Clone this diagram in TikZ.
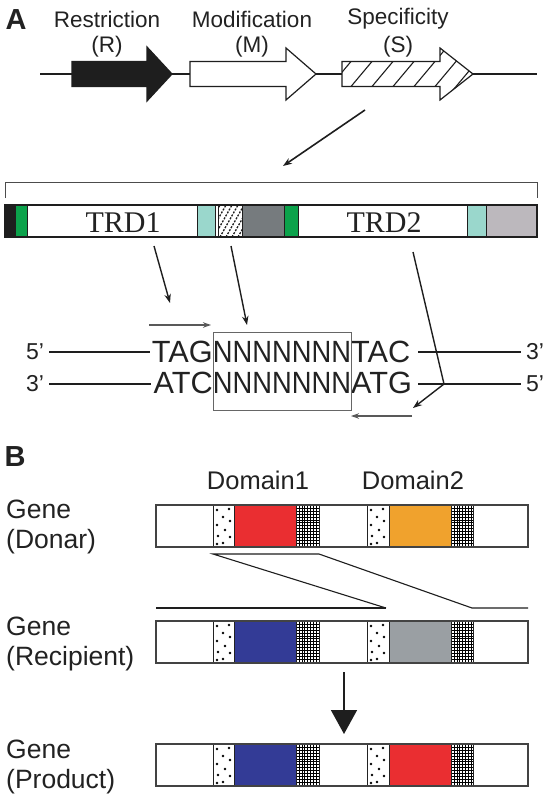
\documentclass[tikz,border=0pt]{standalone}
\usepackage{fontspec}
\setmainfont{Liberation Sans}
\newfontfamily\seqfont[FakeStretch=0.89]{Liberation Sans}
\newfontfamily\timesfont{Liberation Serif}
\usetikzlibrary{arrows.meta}
\definecolor{cgreen}{HTML}{0BA24B}
\definecolor{cteal}{HTML}{9AD7CC}
\definecolor{cdgray}{HTML}{767B7E}
\definecolor{clgray}{HTML}{BCB8BD}
\definecolor{cred}{HTML}{EA2E31}
\definecolor{corange}{HTML}{F0A22D}
\definecolor{cblue}{HTML}{333B96}
\definecolor{cgray}{HTML}{9A9FA3}
\definecolor{cblack}{HTML}{1E1E1E}
\definecolor{ink}{HTML}{222222}
\newcommand\mygenebar[3]{%
  \pgfmathsetmacro\yt{#1}\pgfmathsetmacro\yb{#1+42}%
  \fill[white] (156,\yt) rectangle (528,\yb);
  \fill[#2] (234,\yt) rectangle (296,\yb);
  \fill[#3] (389,\yt) rectangle (451,\yb);
  \foreach \gx in {296,451}{
    \begin{scope}
      \clip (\gx,\yt) rectangle (\gx+23,\yb);
      \foreach \i in {1,...,7} \draw[line width=0.5pt] (\gx+2.9*\i,\yt) -- (\gx+2.9*\i,\yb);
      \foreach \j in {1,...,14} \draw[line width=0.5pt] (\gx,\yt+2.95*\j) -- (\gx+23,\yt+2.95*\j);
    \end{scope}
  }
  \foreach \dxo in {213,367}{
    \foreach \dx/\dy in {4/5,16/4,10/12,17/16,4/20,12/25,5/31,17/32,10/38,4/39}
      \fill[black] (\dxo+\dx,\yt+\dy) circle (1.4pt);
  }
  \foreach \dv in {213,234,296,319,367,389,451,473}
    \draw[line width=0.8pt, ink] (\dv,\yt) -- (\dv,\yb);
  \draw[line width=1.6pt, ink!85] (156,\yt) rectangle (528,\yb);
}
\begin{document}
\begin{tikzpicture}[x=1pt,y=-1pt,
  panel/.style={font=\fontsize{29}{30}\selectfont\bfseries, inner sep=0pt, text=ink},
  lbl/.style={font=\fontsize{22.5}{24}\selectfont, inner sep=0pt, text=ink},
  dlbl/.style={font=\fontsize{25.5}{27}\selectfont, inner sep=0pt, anchor=base, text=ink},
  glbl/.style={font=\fontsize{26.5}{28}\selectfont, inner sep=0pt, anchor=base west, text=ink},
  seqL/.style={font=\fontsize{30.7}{32}\selectfont, inner sep=0pt, anchor=base east, text=ink},
  seqR/.style={font=\fontsize{30.7}{32}\selectfont, inner sep=0pt, anchor=base west, text=ink},
  seqN/.style={font=\seqfont\fontsize{30.7}{32}\selectfont, inner sep=0pt, anchor=base, text=ink},
  prime/.style={font=\fontsize{23}{25}\selectfont, inner sep=0pt, text=ink},
  trd/.style={font=\timesfont\fontsize{30}{32}\selectfont, inner sep=0pt, anchor=base, text=ink},
  gene/.style={line width=1.2pt, draw=cblack},
  conn/.style={line width=1.4pt, draw=cblack, -{Stealth[length=9pt,width=6.5pt]}},
  small/.style={line width=1.2pt, draw=black!65, -{Stealth[length=8pt,width=5.5pt]}},
  strand/.style={line width=1.2pt, draw=cblack},
]
\useasboundingbox (0,0) rectangle (548,800);
\fill[white] (0,0) rectangle (548,800);

% ---------- Panel A ----------
\node[panel] (A) at (16,20) {A};
\node[lbl] (restr) at (107,19) {Restriction};
\node[lbl] (rlab) at (107,47) {(R)};
\node[lbl] (modif) at (252,19) {Modification};
\node[lbl] (mlab) at (252,47) {(M)};
\node[lbl] (spec) at (398,19) {Specificity};
\node[lbl] (slab) at (398,47) {(S)};

\draw[line width=1.3pt, cblack] (40,74) -- (537,74);
% R arrow
\filldraw[gene, fill=cblack] (72,61.5) -- (147,61.5) -- (147,47) -- (172,74) -- (147,101) -- (147,86.5) -- (72,86.5) -- cycle;
% M arrow
\filldraw[gene, fill=white] (190,61.5) -- (286,61.5) -- (286,48) -- (316,74) -- (286,100) -- (286,86.5) -- (190,86.5) -- cycle;
% S arrow (hatched)
\fill[white] (342,61.5) -- (440,61.5) -- (440,48) -- (473,74) -- (440,100) -- (440,86.5) -- (342,86.5) -- cycle;
\begin{scope}
  \clip (342,61.5) -- (440,61.5) -- (440,48) -- (473,74) -- (440,100) -- (440,86.5) -- (342,86.5) -- cycle;
  \foreach \k in {-1,...,6}
    \draw[line width=1.1pt, cblack] (351+21*\k-19.7,110) -- (351+21*\k+39,40);
\end{scope}
\draw[gene] (342,61.5) -- (440,61.5) -- (440,48) -- (473,74) -- (440,100) -- (440,86.5) -- (342,86.5) -- cycle;

\coordinate (d1) at (365,110);
\coordinate (d2) at (283,166);
\draw[conn, line width=1.6pt] (d1) -- (d2);

% bracket
\draw[line width=0.9pt, black!70] (5,198) -- (5,182) -- (537,182) -- (537,198);

% domain bar
\fill[cblack] (5,205) rectangle (15,237);
\fill[cgreen] (15,205) rectangle (27,237);
\fill[white] (27,205) rectangle (197,237);
\fill[cteal] (197,205) rectangle (215,237);
\fill[white] (215,205) rectangle (242,237);
\begin{scope}
  \clip (218,205) rectangle (242,237);
  \foreach \hx in {196,202,...,250}
    \draw[line width=1.3pt, cblack, dash pattern=on 2pt off 1.4pt] (\hx,237) -- (\hx+18,205);
\end{scope}
\fill[cdgray] (242,205) rectangle (284,237);
\fill[cgreen] (284,205) rectangle (298,237);
\fill[white] (298,205) rectangle (467,237);
\fill[cteal] (467,205) rectangle (486,237);
\fill[clgray] (486,205) rectangle (537,237);
\foreach \dv in {15,27,197,215,218,242,284,298,467,486}
  \draw[line width=0.9pt, cblack] (\dv,205) -- (\dv,237);
\draw[line width=2.2pt, cblack] (5,205) rectangle (537,237);
\node[trd] (trd1) at (123,232) {TRD1};
\node[trd] (trd2) at (384,232) {TRD2};

% arrows to sequence
\coordinate (a1s) at (154,246);
\coordinate (a1e) at (170,303);
\coordinate (a2s) at (231,246);
\coordinate (a2e) at (247,325);
\coordinate (a3s) at (413,252);
\coordinate (a3m) at (444,384);
\coordinate (a3e) at (413,408);
\draw[conn] (a1s) -- (a1e);
\draw[conn] (a2s) -- (a2e);
\draw[conn] (a3s) -- (a3m) -- (a3e);

\coordinate (s1s) at (149,325);
\coordinate (s1e) at (211,325);
\coordinate (s2s) at (412,416);
\coordinate (s2e) at (351,416);
\draw[small] (s1s) -- (s1e);
\draw[small] (s2s) -- (s2e);

% sequence
\node[seqL] (topL) at (213,362) {TAG};
\node[seqN] (topN) at (282,362) {NNNNNNN};
\node[seqR] (topR) at (351,362) {TAC};
\node[seqL] (botL) at (213,393) {ATC};
\node[seqN] (botN) at (282,393) {NNNNNNN};
\node[seqR] (botR) at (351,393) {ATG};
\node[draw=black!60, line width=0.8pt, minimum width=138pt, minimum height=78pt, inner sep=0pt] (nbox) at (282,371) {};
\node[prime] (p1) at (35,352) {5’};
\node[prime] (p2) at (535,352) {3’};
\node[prime] (p3) at (35,384) {3’};
\node[prime] (p4) at (535,384) {5’};
\draw[strand] (49,352) -- (150,352);
\draw[strand] (418,352) -- (521,352);
\draw[strand] (49,384) -- (151,384);
\draw[strand] (418,384) -- (521,384);

% ---------- Panel B ----------
\node[panel] (B) at (15,457) {B};
\node[dlbl] (dom1) at (258,489) {Domain1};
\node[dlbl] (dom2) at (413,489) {Domain2};

\node[glbl] (g1) at (6,518) {Gene};
\node[glbl] (g1b) at (6,548) {(Donar)};
\node[glbl] (g2) at (6,635) {Gene};
\node[glbl] (g2b) at (6,665) {(Recipient)};
\node[glbl] (g3) at (6,758) {Gene};
\node[glbl] (g3b) at (6,788) {(Product)};

\mygenebar{505}{cred}{corange}
\mygenebar{621}{cblue}{cgray}
\mygenebar{744}{cblue}{cred}

% crossover
\draw[line width=1.1pt, cblack] (386,608) -- (213,554) -- (319,554) -- (472,608) -- (528,608);
\draw[line width=1.1pt, cblack] (156,608) -- (386,608);

\coordinate (da1) at (344,672);
\coordinate (da2) at (344,734);
\draw[line width=1.6pt, cblack, -{Triangle[length=24pt,width=26pt]}] (da1) -- (da2);
\end{tikzpicture}
\end{document}
